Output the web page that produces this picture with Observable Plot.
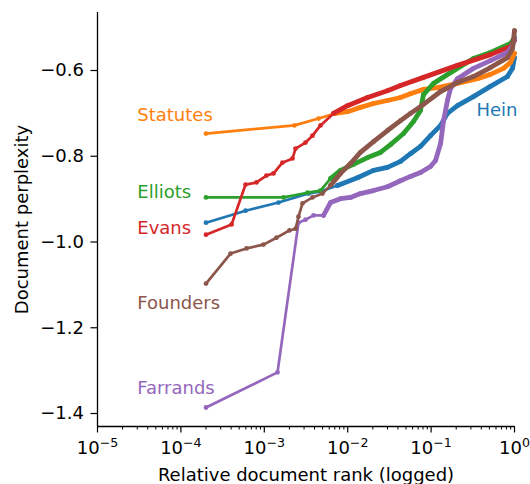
<!DOCTYPE html>
<html><head><meta charset="utf-8">
<script src="https://cdn.jsdelivr.net/npm/d3@7"></script>
<script src="https://cdn.jsdelivr.net/npm/@observablehq/plot@0.6"></script>
<style>html,body{margin:0;padding:0;background:#fff}svg{display:block}</style>
</head><body><div id="chart"></div>
<script>
// ---- data ----
const seriesNames = ["Hein", "Statutes", "Elliots", "Evans", "Farrands", "Founders"];
const seriesColors = ["#1f77b4", "#ff7f0e", "#2ca02c", "#d62728", "#9467bd", "#8c564b"];

const heinRank = [2e-4, 5.96e-4, 1.48e-3, 3.39e-3, 4.72e-3, 7.55e-3, 1.31e-2, 2.04e-2, 3.00e-2, 4.30e-2, 5.66e-2, 7.46e-2, 9.84e-2, 0.130, 0.157, 0.207, 0.322, 0.515, 0.824, 0.946, 1.0];
const heinPerplexity = [-0.955, -0.927, -0.908, -0.887, -0.882, -0.868, -0.850, -0.833, -0.826, -0.812, -0.794, -0.777, -0.752, -0.728, -0.700, -0.682, -0.661, -0.637, -0.614, -0.595, -0.570];

const statutesRank = [2e-4, 2.30e-3, 4.47e-3, 7.14e-3, 9.95e-3, 1.42e-2, 2.04e-2, 3.00e-2, 4.30e-2, 5.66e-2, 8.11e-2, 0.119, 0.207, 0.360, 0.515, 0.738, 0.896, 1.0];
const statutesPerplexity = [-0.747, -0.728, -0.712, -0.700, -0.696, -0.686, -0.677, -0.670, -0.663, -0.654, -0.644, -0.640, -0.630, -0.619, -0.609, -0.595, -0.581, -0.560];

const elliotsRank = [2e-4, 1.70e-3, 3.30e-3, 4.72e-3, 6.22e-3, 8.20e-3, 1.17e-2, 1.73e-2, 2.47e-2, 3.26e-2, 4.67e-2, 6.15e-2, 7.46e-2, 8.11e-2, 0.107, 0.171, 0.322, 0.515, 0.896, 1.0];
const elliotsPerplexity = [-0.896, -0.896, -0.885, -0.880, -0.852, -0.833, -0.819, -0.803, -0.791, -0.773, -0.747, -0.719, -0.693, -0.656, -0.630, -0.605, -0.572, -0.558, -0.537, -0.523];

const evansRank = [2e-4, 4.05e-4, 5.96e-4, 8.06e-4, 1.06e-3, 1.29e-3, 1.65e-3, 2.18e-3, 2.37e-3, 3.12e-3, 3.78e-3, 4.72e-3, 6.76e-3, 9.95e-3, 1.73e-2, 3.00e-2, 4.30e-2, 8.11e-2, 0.207, 0.515, 0.896, 1.0];
const evansPerplexity = [-0.983, -0.959, -0.866, -0.861, -0.845, -0.840, -0.815, -0.805, -0.782, -0.768, -0.752, -0.728, -0.700, -0.682, -0.663, -0.647, -0.635, -0.616, -0.588, -0.563, -0.544, -0.530];

const farrandsRank = [2e-4, 1.44e-3, 2.57e-3, 3.12e-3, 3.89e-3, 5.13e-3, 6.22e-3, 8.20e-3, 1.08e-2, 1.42e-2, 2.04e-2, 3.00e-2, 4.30e-2, 5.66e-2, 7.46e-2, 9.84e-2, 0.113, 0.130, 0.141, 0.157, 0.171, 0.207, 0.322, 0.515, 0.824, 0.946, 1.0];
const farrandsPerplexity = [-1.386, -1.304, -0.955, -0.948, -0.938, -0.938, -0.908, -0.899, -0.896, -0.887, -0.880, -0.871, -0.857, -0.847, -0.838, -0.824, -0.810, -0.770, -0.717, -0.670, -0.642, -0.619, -0.595, -0.577, -0.558, -0.542, -0.525];

const foundersRank = [2e-4, 3.94e-4, 6.12e-4, 9.77e-4, 1.40e-3, 2.00e-3, 2.37e-3, 2.57e-3, 2.87e-3, 3.78e-3, 4.99e-3, 6.22e-3, 8.20e-3, 1.08e-2, 1.42e-2, 2.04e-2, 3.00e-2, 4.30e-2, 5.66e-2, 8.11e-2, 0.130, 0.207, 0.322, 0.515, 0.824, 0.946, 1.0];
const foundersPerplexity = [-1.097, -1.027, -1.015, -1.006, -0.990, -0.973, -0.969, -0.941, -0.910, -0.896, -0.887, -0.868, -0.840, -0.817, -0.791, -0.766, -0.740, -0.717, -0.700, -0.679, -0.649, -0.628, -0.614, -0.593, -0.570, -0.549, -0.507];

// label anchor positions (data coordinates), same order as seriesNames
const labelRank = [0.35, 3e-5, 3e-5, 3e-5, 3e-5, 3e-5];
const labelPerplexity = [-0.693, -0.705, -0.885, -0.969, -1.342, -1.143];

const xTickValues = [1e-5, 1e-4, 1e-3, 1e-2, 1e-1, 1];
const xTickBase = "10";
const xTickExponents = ["\u22125", "\u22124", "\u22123", "\u22122", "\u22121", "0"];
const yTickValues = [-0.6, -0.8, -1.0, -1.2, -1.4];
const xLabel = "Relative document rank (logged)";
const yLabel = "Document perplexity";

// ---- build ----
const ranks = [heinRank, statutesRank, elliotsRank, evansRank, farrandsRank, foundersRank];
const values = [heinPerplexity, statutesPerplexity, elliotsPerplexity, evansPerplexity, farrandsPerplexity, foundersPerplexity];
const yDomain = [-1.4303, -0.4647];
const xDomain = [1e-5, 1];
const denseFrom = 5e-3;

const minorTicks = [];
for (let e = -5; e < 0; e++) for (let m = 2; m <= 9; m++) minorTicks.push(m * Math.pow(10, e));

const seriesMarks = seriesNames.flatMap((name, s) => {
  const rows = ranks[s].map((r, i) => ({series: name, rank: r, perplexity: values[s][i]}));
  const dense = rows.filter(d => d.rank >= denseFrom);
  return [
    Plot.line(rows, {x: "rank", y: "perplexity", stroke: "series", strokeWidth: 2.7, strokeLinejoin: "round", strokeLinecap: "round"}),
    Plot.line(dense, {x: "rank", y: "perplexity", stroke: "series", strokeWidth: 4.8, strokeLinejoin: "round", strokeLinecap: "round"}),
    Plot.dot(rows, {x: "rank", y: "perplexity", fill: "series", r: 2.4})
  ];
});

const labelRows = seriesNames.map((name, s) => ({series: name, rank: labelRank[s], perplexity: labelPerplexity[s]}));

const chart = Plot.plot({
  width: 530, height: 484,
  marginLeft: 97, marginRight: 16, marginTop: 12, marginBottom: 58,
  style: {fontFamily: "DejaVu Sans", fontSize: "18px", background: "#fff", color: "#000", overflow: "visible"},
  x: {type: "log", domain: xDomain},
  y: {domain: yDomain},
  color: {domain: seriesNames, range: seriesColors},
  marks: [
    Plot.axisX(minorTicks, {tickSize: 3.5, tickFormat: () => "", label: null, strokeWidth: 1}),
    Plot.axisX(xTickValues, {tickSize: 6.5, tickPadding: 8, tickFormat: d => xTickExponents[xTickValues.indexOf(d)], label: null, fontSize: 18, strokeWidth: 1.2, ariaLabel: "x-major"}),
    Plot.axisY(yTickValues, {tickSize: 6.5, tickPadding: 7, tickFormat: d3.format(".1f"), label: null, fontSize: 18, strokeWidth: 1.2}),
    Plot.ruleX([xDomain[0]], {stroke: "#000", strokeWidth: 1.3}),
    Plot.ruleY([yDomain[0]], {stroke: "#000", strokeWidth: 1.3}),
    ...seriesMarks,
    Plot.text(labelRows, {x: "rank", y: "perplexity", text: "series", fill: "series", textAnchor: "start", lineAnchor: "middle", fontSize: 18}),
    Plot.text([xLabel], {frameAnchor: "bottom", dy: 49, textAnchor: "middle", lineAnchor: "middle", fontSize: 18, fill: "#000"}),
    Plot.text([yLabel], {frameAnchor: "left", dx: -75, rotate: -90, textAnchor: "middle", lineAnchor: "middle", fontSize: 18, fill: "#000"})
  ]
});

// turn exponent tick labels into "10" + superscript
d3.select(chart).selectAll('g[aria-label="x-major tick label"] text, g[aria-label="x-axis tick label"] text').each(function() {
  const t = d3.select(this);
  const exp = t.text();
  if (!xTickExponents.includes(exp)) return;
  t.text(xTickBase);
  t.append("tspan").attr("dy", "-6.5").attr("font-size", "12.6px").text(exp);
});
document.getElementById("chart").appendChild(chart);
</script>
</body></html>
